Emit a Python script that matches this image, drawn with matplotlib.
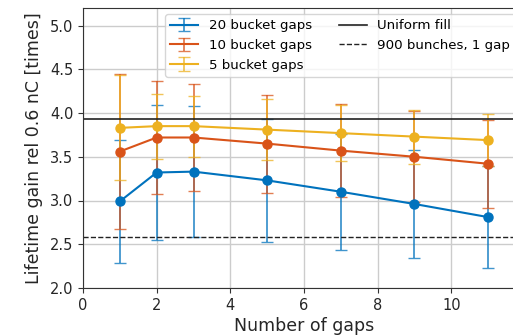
import numpy as np
import matplotlib.pyplot as plt

# number of gaps
n_gaps = [1, 2, 3, 5, 7, 9, 11]

# lifetime gain and errors per gap size
gain_20 = [2.99, 3.32, 3.33, 3.23, 3.10, 2.96, 2.81]
err_20 = [0.70, 0.77, 0.75, 0.70, 0.66, 0.62, 0.58]
gain_10 = [3.56, 3.72, 3.72, 3.65, 3.57, 3.50, 3.42]
err_10 = [0.89, 0.65, 0.61, 0.56, 0.53, 0.52, 0.50]
gain_5 = [3.83, 3.85, 3.85, 3.81, 3.77, 3.73, 3.69]
err_5 = [0.60, 0.37, 0.35, 0.35, 0.32, 0.31, 0.30]

uniform_fill = 3.93
one_gap_900 = 2.58

fig = plt.figure(figsize=(5.13, 3.35), dpi=100)
ax = fig.add_axes([83 / 513, 1 - 288 / 335, 442 / 513, 280 / 335])

series = [
    (gain_20, err_20, '#0072BD', '20 bucket gaps'),
    (gain_10, err_10, '#D95319', '10 bucket gaps'),
    (gain_5, err_5, '#EDB120', '5 bucket gaps'),
]
handles = []
for gain, err, color, label in series:
    h = ax.errorbar(n_gaps, gain, yerr=err, fmt='-', color=color, ecolor=color,
                    capsize=4, elinewidth=1.3, lw=1.5, label=label)
    h[2][0].set_alpha(0.75)
    for c in h[1]:
        c.set_alpha(0.75)
    handles.append(h)
for gain, err, color, label in series:
    ax.plot(n_gaps, gain, 'o', color=color, markersize=6.5, zorder=4)

handles.append(ax.axhline(uniform_fill, color='#222222', lw=1.2, label='Uniform fill'))
handles.append(ax.axhline(one_gap_900, color='#222222', lw=1.0, ls='--',
                          label='900 bunches, 1 gap'))

ax.set_xlim(0, 12)
ax.set_ylim(2.0, 5.2)
ax.set_xticks([0, 2, 4, 6, 8, 10])
ax.set_yticks([2.0, 2.5, 3.0, 3.5, 4.0, 4.5, 5.0])
ax.grid(True, color='#cccccc', lw=1.0)
ax.set_axisbelow(True)
ax.tick_params(labelsize=10.5, colors='#333333', labelcolor='#262626')
ax.set_xlabel('Number of gaps', fontsize=12.5, color='#262626', labelpad=3)
ax.set_ylabel('Lifetime gain rel 0.6 nC [times]', fontsize=12.5, color='#262626',
              labelpad=5)
for s in ax.spines.values():
    s.set_color('#333333')

ax.legend(handles=handles, loc='upper left', ncol=2, fontsize=9.6, framealpha=0.8,
          bbox_to_anchor=(165 / 513, 1 - 14 / 335), bbox_transform=fig.transFigure,
          borderaxespad=0, labelspacing=0.5, handlelength=2.1)

plt.savefig('out.png', dpi=100)
